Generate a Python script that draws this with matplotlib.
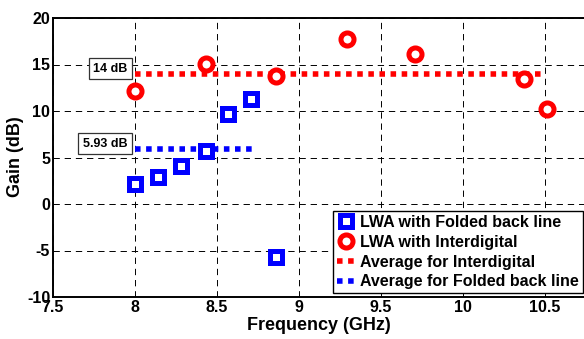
import matplotlib
matplotlib.use("Agg")
import matplotlib.pyplot as plt
from matplotlib.lines import Line2D

plt.rcParams['font.family'] = ['Liberation Sans', 'DejaVu Sans']
plt.rcParams['font.weight'] = 'bold'

# Measured gain of the two leaky-wave antenna variants
freq_folded = [8.0, 8.14, 8.28, 8.43, 8.57, 8.71, 8.86]
gain_folded = [2.1, 2.9, 4.1, 5.65, 9.7, 11.25, -5.7]

freq_inter = [8.0, 8.43, 8.86, 9.29, 9.71, 10.37, 10.51]
gain_inter = [12.1, 15.1, 13.8, 17.7, 16.1, 13.4, 10.2]

# Average gain values and the frequency spans they cover
avg_inter = 14
avg_inter_span = [8.0, 10.49]
avg_folded = 5.93
avg_folded_span = [8.0, 8.72]

x_ticks = [7.5, 8, 8.5, 9, 9.5, 10, 10.5]
x_tick_labels = ['7.5', '8', '8.5', '9', '9.5', '10', '10.5']
y_ticks = [-10, -5, 0, 5, 10, 15, 20]
y_tick_labels = ['-10', '-5', '0', '5', '10', '15', '20']

W, H = 584, 339
fig = plt.figure(figsize=(W / 100, H / 100), dpi=100)
left, bottom, top = 53 / W, 1 - 297 / H, 1 - 18 / H
px_per_ghz = 164
xmin, xmax = 7.5, 11.0
ax = fig.add_axes([left, bottom, (xmax - xmin) * px_per_ghz / W, top - bottom])
ax.set_xlim(xmin, xmax)
ax.set_ylim(-10, 20)

ax.grid(True, color='k', lw=0.7, dashes=(6.5, 5.0))
ax.set_axisbelow(True)

blue = (0, 0, 1)
red = (1, 0, 0)

ax.plot(avg_inter_span, [avg_inter] * 2, color=red, lw=4.0,
        linestyle=(0, (1, 1)), dash_capstyle='butt', zorder=3)
ax.plot(avg_folded_span, [avg_folded] * 2, color=blue, lw=4.0,
        linestyle=(0, (1, 1)), dash_capstyle='butt', zorder=3)

ax.plot(freq_folded, gain_folded, linestyle='none', marker='s', ms=8.2,
        mew=3.6, mec=blue, mfc='white', zorder=4)
ax.plot(freq_inter, gain_inter, linestyle='none', marker='o', ms=9.4,
        mew=3.6, mec=red, mfc='white', zorder=4)

box = dict(boxstyle='square,pad=0.35', fc='white', ec='#333333', lw=0.9)
for val, txt in [(avg_inter, '14 dB'), (avg_folded, '5.93 dB')]:
    ax.annotate(txt, xy=(8.0, val), xytext=(-5.5, 3.6),
                textcoords='offset points', ha='right', va='center',
                fontsize=9, fontweight='bold', bbox=box, zorder=5)

ax.set_xticks(x_ticks)
ax.set_xticklabels(x_tick_labels)
ax.set_yticks(y_ticks)
ax.set_yticklabels(y_tick_labels)
ax.tick_params(direction='in', length=0, labelsize=11.5, pad=2)
for lab in ax.get_xticklabels() + ax.get_yticklabels():
    lab.set_fontweight('bold')

for side in ['left', 'bottom', 'top']:
    ax.spines[side].set_linewidth(1.4)
ax.spines['right'].set_visible(False)

fig.text(245 / W + 74 / W, 1 - 326 / H, 'Frequency (GHz)', ha='center',
         va='center', fontsize=13, fontweight='bold')
fig.text(15 / W, 1 - 157 / H, 'Gain (dB)', ha='center', va='center',
         rotation=90, fontsize=13, fontweight='bold')

handles = [
    Line2D([], [], linestyle='none', marker='s', ms=8.2, mew=3.6,
           mec=blue, mfc='white'),
    Line2D([], [], linestyle='none', marker='o', ms=9.4, mew=3.6,
           mec=red, mfc='white'),
    Line2D([], [], color=red, lw=4.0, linestyle=(0, (1, 1)),
           dash_capstyle='butt'),
    Line2D([], [], color=blue, lw=4.0, linestyle=(0, (1, 1)),
           dash_capstyle='butt'),
]
labels = ['LWA with Folded back line', 'LWA with Interdigital',
          'Average for Interdigital', 'Average for Folded back line']
leg = ax.legend(handles, labels, loc='lower right',
                bbox_to_anchor=(582.7 / W, 1 - 293.3 / H),
                bbox_transform=fig.transFigure, fancybox=False,
                framealpha=1, edgecolor='k', borderpad=0.25,
                handlelength=1.1, handletextpad=0.35, labelspacing=0.3,
                borderaxespad=0, prop={'size': 11.5, 'weight': 'bold'})
leg.get_frame().set_linewidth(1.0)
leg.set_zorder(6)

fig.savefig('out.png', dpi=100)
